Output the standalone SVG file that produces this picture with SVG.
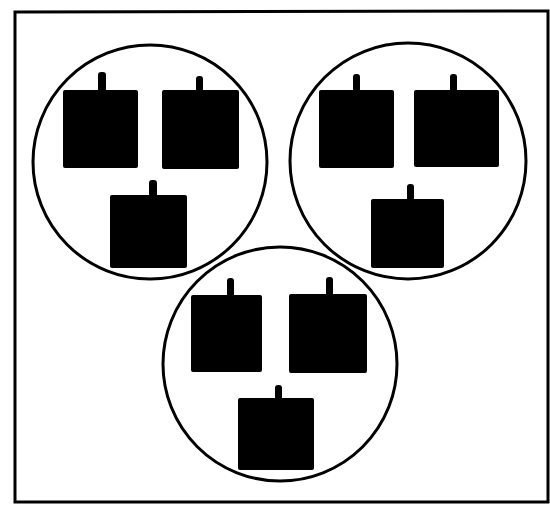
<svg xmlns="http://www.w3.org/2000/svg" width="550" height="505" viewBox="0 0 550 505">
<style>
.frame{fill:none;stroke:#000;stroke-width:3}
.ring{fill:none;stroke:#000;stroke-width:3}
.box{fill:#000}
.tab{fill:#000}
</style>
<rect width="550" height="505" fill="#fff"/>
<path class="frame" d="M15,12 L548,11 L548,502 L15,502 Z"/>
<g id="group-left">
<circle class="ring" cx="150" cy="162" r="117"/>
<g id="left-a"><rect class="box" x="63" y="90" width="75" height="78" rx="2"/><rect class="tab" x="98" y="72" width="8" height="20" rx="3"/></g>
<g id="left-b"><rect class="box" x="162" y="90" width="77" height="79" rx="2"/><rect class="tab" x="196" y="76" width="7" height="16" rx="3"/></g>
<g id="left-c"><rect class="box" x="110" y="195" width="77" height="73" rx="2"/><rect class="tab" x="149" y="180" width="8" height="17" rx="3"/></g>
</g>
<g id="group-right">
<circle class="ring" cx="408" cy="161" r="118"/>
<g id="right-a"><rect class="box" x="319" y="90" width="75" height="78" rx="2"/><rect class="tab" x="353" y="74" width="7" height="18" rx="3"/></g>
<g id="right-b"><rect class="box" x="414" y="90" width="85" height="77" rx="2"/><rect class="tab" x="450" y="74" width="7" height="18" rx="3"/></g>
<g id="right-c"><rect class="box" x="371" y="199" width="73" height="69" rx="2"/><rect class="tab" x="407" y="184" width="7" height="17" rx="3"/></g>
</g>
<g id="group-bottom">
<circle class="ring" cx="280" cy="364" r="117"/>
<g id="bottom-a"><rect class="box" x="191" y="295" width="71" height="77" rx="2"/><rect class="tab" x="227" y="278" width="7" height="19" rx="3"/></g>
<g id="bottom-b"><rect class="box" x="289" y="294" width="78" height="79" rx="2"/><rect class="tab" x="326" y="277" width="7" height="19" rx="3"/></g>
<g id="bottom-c"><rect class="box" x="238" y="398" width="76" height="72" rx="2"/><rect class="tab" x="275" y="385" width="7" height="15" rx="3"/></g>
</g>
<g id="connectors"/>
</svg>
